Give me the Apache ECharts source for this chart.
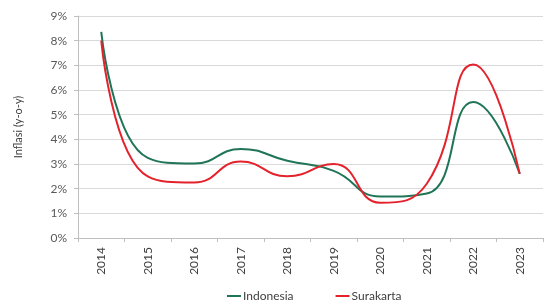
<!DOCTYPE html>
<html>
<head>
<meta charset="utf-8">
<script src="https://cdn.jsdelivr.net/npm/echarts@6/dist/echarts.min.js"></script>
<style>
  html, body { margin: 0; padding: 0; background: #fff; }
  #chart { width: 544px; height: 308px; }
</style>
</head>
<body>
<div id="chart"></div>
<script>
// data
var years = ['2014', '2015', '2016', '2017', '2018', '2019', '2020', '2021', '2022', '2023'];
var indonesia = [8.36, 3.25, 3.02, 3.61, 3.13, 2.72, 1.68, 1.8, 5.51, 2.61];
var surakarta = [8.0, 2.5, 2.25, 3.1, 2.5, 3.0, 1.43, 2.2, 7.03, 2.6];

var myChart = echarts.init(document.getElementById('chart'));
var font = 'Lato';

var option = {
  animation: false,
  grid: {
    left: 78,
    right: 1,
    top: 16,
    bottom: 70
  },
  legend: {
    bottom: 1,
    left: 222,
    itemGap: 42,
    itemWidth: 14,
    itemHeight: 2,
    icon: 'rect',
    textStyle: {
      color: '#404040',
      fontSize: 12,
      fontFamily: font,
      padding: [0, 0, 0, -3]
    },
    data: ['Indonesia', 'Surakarta']
  },
  xAxis: {
    type: 'category',
    data: years,
    boundaryGap: true,
    axisLine: { lineStyle: { color: '#bfbfbf' } },
    axisTick: { show: true, length: 4, lineStyle: { color: '#bfbfbf' } },
    axisLabel: {
      rotate: 90,
      color: '#404040',
      fontSize: 12,
      fontFamily: font,
      margin: 9
    },
    splitLine: { show: false }
  },
  yAxis: {
    type: 'value',
    min: 0,
    max: 9,
    interval: 1,
    name: 'Inflasi (y-o-y)',
    nameLocation: 'middle',
    nameGap: 54,
    nameTextStyle: { color: '#404040', fontSize: 11, fontFamily: font },
    axisLine: { show: true, lineStyle: { color: '#bfbfbf' } },
    axisTick: { show: true, length: 4, lineStyle: { color: '#bfbfbf' } },
    axisLabel: {
      formatter: '{value}%',
      color: '#595959',
      fontSize: 12,
      fontFamily: font,
      margin: 11
    },
    splitLine: { lineStyle: { color: '#d9d9d9' } }
  },
  series: [
    {
      name: 'Indonesia',
      type: 'line',
      data: indonesia,
      smooth: 0.5,
      symbol: 'none',
      color: '#1f7556',
      lineStyle: { width: 2, color: '#1f7556' }
    },
    {
      name: 'Surakarta',
      type: 'line',
      data: surakarta,
      smooth: 0.5,
      symbol: 'none',
      color: '#e3222c',
      lineStyle: { width: 2, color: '#e3222c' }
    }
  ]
};

myChart.setOption(option);
window.onresize = myChart.resize;
</script>
</body>
</html>
